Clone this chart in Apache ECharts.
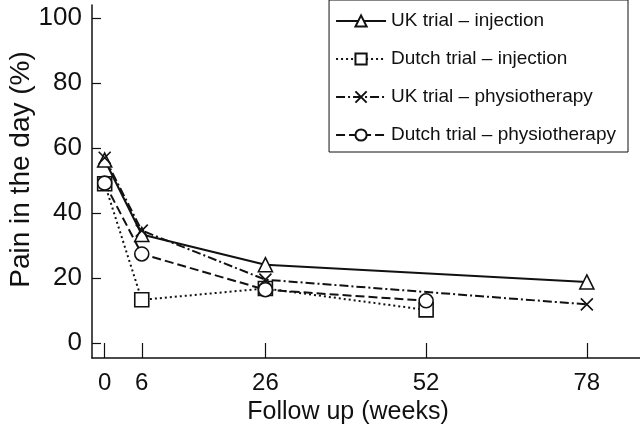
<!DOCTYPE html>
<html>
<head>
<meta charset="utf-8">
<script src="https://cdn.jsdelivr.net/npm/echarts@6/dist/echarts.min.js"></script>
<style>
html,body{margin:0;padding:0;background:#fff;}
#chart{width:640px;height:434px;}
</style>
</head>
<body>
<div id="chart"></div>
<script>
// ---- data ----
const weeksUK = [0, 6, 26, 78];
const weeksDutch = [0, 6, 26, 52];
const ukInjection = [56.3, 33.4, 24.1, 18.8];
const dutchInjection = [49.0, 13.3, 16.8, 10.2];
const ukPhysio = [57.0, 34.6, 19.5, 11.9];
const dutchPhysio = [49.2, 27.4, 16.4, 13.0];
const seriesNames = ['UK trial – injection', 'Dutch trial – injection', 'UK trial – physiotherapy', 'Dutch trial – physiotherapy'];
const xTicks = [0, 6, 26, 52, 78];
const yTicks = [0, 20, 40, 60, 80, 100];

function pairs(xs, ys) { return xs.map((x, i) => [x, ys[i]]); }

const FONT = 'Liberation Sans';
const INK = '#111';
const XPATH = 'path://M0,0L10,10M0,10L10,0';

function mk(name, xs, ys, symbol, dash) {
  return {
    name: name,
    type: 'line',
    data: pairs(xs, ys),
    symbol: symbol,
    symbolSize: symbol === XPATH ? 12 : 14,
    showSymbol: true,
    lineStyle: { color: INK, width: 2, type: dash },
    itemStyle: { color: '#fff', borderColor: INK, borderWidth: 1.6 },
    emphasis: { disabled: true },
    animation: false
  };
}

const chart = echarts.init(document.getElementById('chart'), null, { renderer: 'canvas' });
chart.setOption({
  backgroundColor: '#fff',
  animation: false,
  grid: { left: 92, right: 0, top: 5, bottom: 76, containLabel: false, outerBoundsMode: 'none' },
  legend: {
    orient: 'vertical',
    right: 12,
    top: 0,
    padding: [9, 12, 5, 6],
    itemWidth: 50,
    itemHeight: 14,
    itemGap: 14,
    borderColor: INK,
    borderWidth: 1,
    backgroundColor: '#fff',
    textStyle: { fontFamily: FONT, fontSize: 19, color: INK, lineHeight: 24 },
    data: seriesNames
  },
  xAxis: {
    type: 'value',
    min: -2.05,
    max: 86.6,
    name: 'Follow up (weeks)',
    nameLocation: 'middle',
    nameGap: 42,
    nameMoveOverlap: false,
    nameTextStyle: { fontFamily: FONT, fontSize: 25, color: INK, padding: [0, 36, 0, 0] },
    axisLine: { onZero: false, lineStyle: { color: INK, width: 1.5 } },
    axisTick: { show: true, inside: true, length: 15, customValues: xTicks, lineStyle: { color: INK, width: 1.2 } },
    axisLabel: { customValues: xTicks, fontFamily: FONT, fontSize: 24, color: INK, margin: 13 },
    splitLine: { show: false }
  },
  yAxis: {
    type: 'value',
    min: -4.6,
    max: 104,
    name: 'Pain in the day (%)',
    nameLocation: 'middle',
    nameRotate: 90,
    nameGap: 57,
    nameMoveOverlap: false,
    nameTextStyle: { fontFamily: FONT, fontSize: 28, color: INK, padding: [0, 0, 0, 24] },
    axisLine: { onZero: false, lineStyle: { color: INK, width: 1.5 } },
    axisTick: { show: true, inside: true, length: 9, customValues: yTicks, lineStyle: { color: INK, width: 1.2 } },
    axisLabel: { customValues: yTicks, fontFamily: FONT, fontSize: 26, color: INK, margin: 10 },
    splitLine: { show: false }
  },
  series: [
    mk(seriesNames[0], weeksUK, ukInjection, 'triangle', 'solid'),
    mk(seriesNames[1], weeksDutch, dutchInjection, 'rect', [2, 3]),
    mk(seriesNames[2], weeksUK, ukPhysio, XPATH, [9, 3, 2, 3]),
    mk(seriesNames[3], weeksDutch, dutchPhysio, 'circle', [9, 4])
  ]
});
</script>
</body>
</html>
